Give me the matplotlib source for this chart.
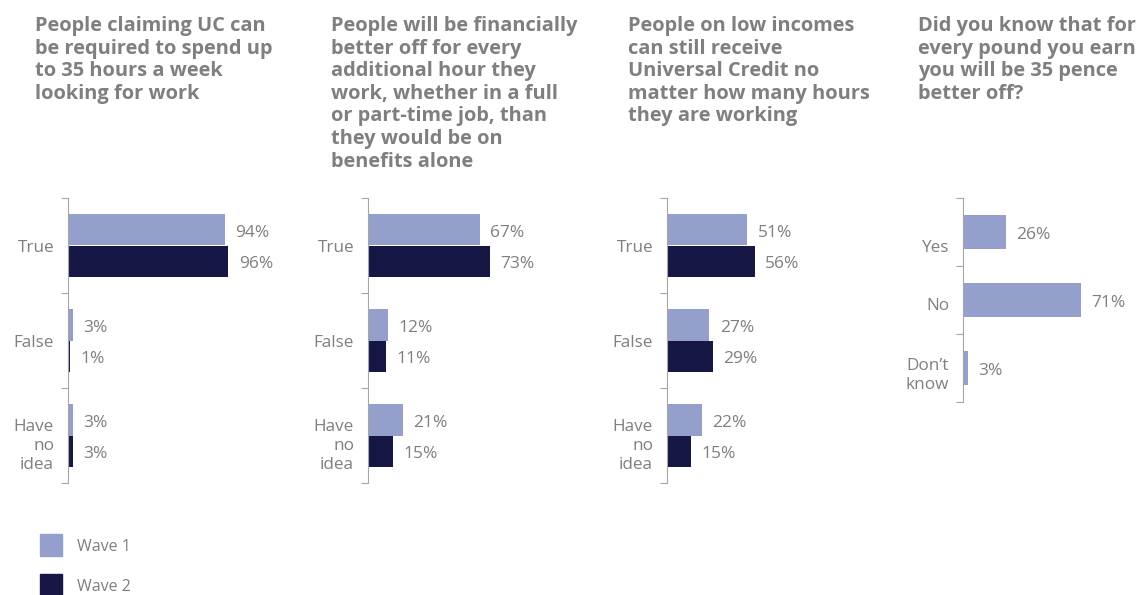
import matplotlib.pyplot as plt

titles = [
    'People claiming UC can\nbe required to spend up\nto 35 hours a week\nlooking for work',
    'People will be financially\nbetter off for every\nadditional hour they\nwork, whether in a full\nor part-time job, than\nthey would be on\nbenefits alone',
    'People on low incomes\ncan still receive\nUniversal Credit no\nmatter how many hours\nthey are working',
    'Did you know that for\nevery pound you earn\nyou will be 35 pence\nbetter off?',
]
tf_labels = ['True', 'False', 'Have\nno\nidea']
wave1 = [[94, 3, 3], [67, 12, 21], [51, 27, 22]]
wave2 = [[96, 1, 3], [73, 11, 15], [56, 29, 15]]
q4_labels = ['Yes', 'No', 'Don\u2019t\nknow']
q4_values = [26, 71, 3]

c1 = '#959fcc'
c2 = '#171745'
grey = '#7f7f7f'
spine = '#a6a6a6'
plt.rcParams['font.family'] = ['Open Sans', 'DejaVu Sans']

W, H = 1142, 595
fig = plt.figure(figsize=(W / 100, H / 100), dpi=100)

def box(x0, y0, w, h):
    return [x0 / W, 1 - (y0 + h) / H, w / W, h / H]

def style(ax, labels, label_shift):
    n = len(labels)
    ax.set_ylim(n - 0.5, -0.5)
    ax.set_xlim(0, 100)
    for s in ['top', 'right', 'bottom']:
        ax.spines[s].set_visible(False)
    ax.spines['left'].set_color(spine)
    ax.set_xticks([])
    ax.set_yticks([i - 0.5 for i in range(n + 1)])
    ax.set_yticklabels([])
    ax.tick_params(axis='y', which='major', length=5, color=spine)
    ax.set_yticks([i + label_shift[i] for i in range(n)], minor=True)
    ax.set_yticklabels(labels, minor=True, fontsize=12.3, color=grey,
                       linespacing=1.25)
    ax.tick_params(axis='y', which='minor', length=0, pad=10)

def label(ax, v, y):
    ax.annotate(f'{v}%', (v, y), xytext=(7.5, -2), textcoords='offset points',
                va='center', ha='left', fontsize=12.5, color=grey)

lefts = [68, 368, 667]
widths = [167, 167, 157]
title_x = [35, 331, 628, 918]

for k in range(3):
    ax = fig.add_axes(box(lefts[k], 198, widths[k], 285))
    ys = list(range(3))
    ax.barh([y - 0.165 for y in ys], wave1[k], height=0.33, color=c1)
    ax.barh([y + 0.165 for y in ys], wave2[k], height=0.33, color=c2)
    for y in ys:
        label(ax, wave1[k][y], y - 0.165)
        label(ax, wave2[k][y], y + 0.165)
    style(ax, tf_labels, [0, 0.01, 0.07])

ax = fig.add_axes(box(963, 198, 166, 204))
ax.barh(range(3), q4_values, height=0.5, color=c1)
for y, v in enumerate(q4_values):
    label(ax, v, y)
style(ax, q4_labels, [0.2, 0.06, 0.06])

for k in range(4):
    fig.text(title_x[k] / W, 1 - 16 / H, titles[k], ha='left', va='top',
             fontsize=14.4, fontweight='bold', color=grey, linespacing=1.175)

# legend
for i, (name, c) in enumerate([('Wave 1', c1), ('Wave 2', c2)]):
    yc = 545 + i * 40
    fig.patches.append(plt.Rectangle((40 / W, 1 - (yc + 11) / H), 22 / W, 22 / H,
                                     transform=fig.transFigure, color=c))
    fig.text(77 / W, 1 - (yc + 2) / H, name, ha='left', va='center',
             fontsize=11.5, color=grey)

fig.savefig('out.png', dpi=100)
